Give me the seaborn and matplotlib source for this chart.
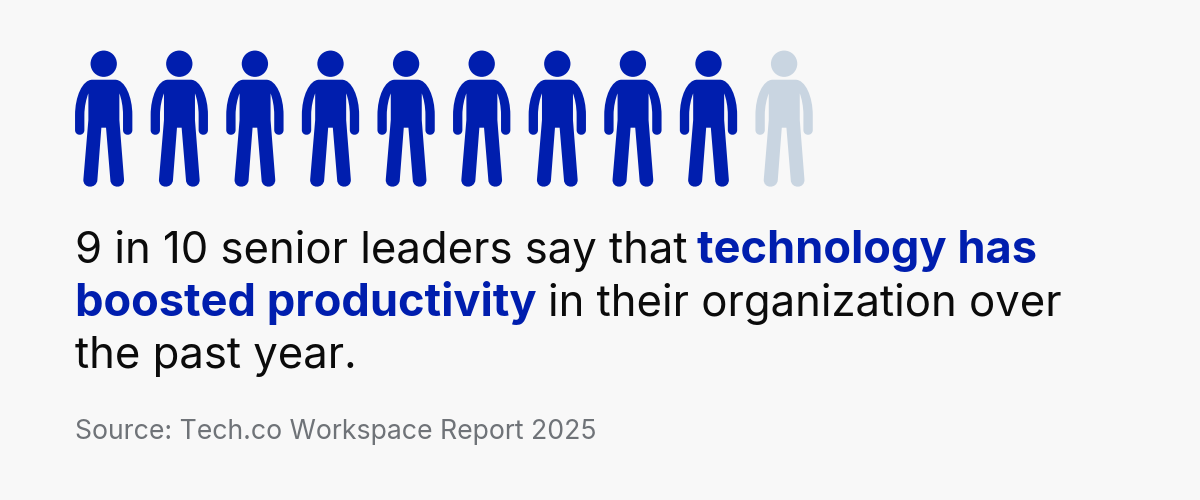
import matplotlib
matplotlib.use("Agg")
import matplotlib.pyplot as plt
import seaborn as sns
import pandas as pd
import numpy as np
from matplotlib.path import Path
from matplotlib.textpath import TextPath
from matplotlib.font_manager import FontProperties

# ---- data ----
people = [1, 2, 3, 4, 5, 6, 7, 8, 9, 10]
status = ["Yes", "Yes", "Yes", "Yes", "Yes", "Yes", "Yes", "Yes", "Yes", "No"]
line1_plain = "9 in 10 senior leaders say that"
line1_bold = "technology has"
line2_bold = "boosted productivity"
line2_plain = "in their organization over"
line3_plain = "the past year."
source_text = "Source: Tech.co Workspace Report 2025"

BG = "#F8F8F8"
BLUE = "#001EAE"
PALE = "#C9D5E1"
INK = "#0B0B0B"
GREY = "#6F7378"
FONT = "Inter"

sns.set_theme(style="white")
plt.rcParams["font.family"] = [FONT, "DejaVu Sans"]

# Person glyph, traced in zoomed px relative to the figure centre
def person_path():
    cx, cy, k = 131.0, 236.0, 204.0
    M, L, C, Z = Path.MOVETO, Path.LINETO, Path.CURVE4, Path.CLOSEPOLY
    body = [
        (M, (131, 119)),
        (L, (165, 119)),
        (C, (195, 119)), (C, (217, 170)), (C, (217, 225)),
        (L, (217, 270)),
        (C, (217, 289)), (C, (189, 289)), (C, (189, 270)),
        (L, (189, 225)),
        (C, (189, 200)), (C, (184, 175)), (C, (178, 160)),
        (L, (178, 240)),
        (L, (192, 418)),
        (C, (194, 447)), (C, (152, 447)), (C, (151, 420)),
        (L, (138, 263)),
        (L, (124, 263)),
        (L, (112, 420)),
        (C, (110, 447)), (C, (68, 447)), (C, (70, 418)),
        (L, (85, 240)),
        (L, (85, 160)),
        (C, (79, 175)), (C, (73, 200)), (C, (73, 225)),
        (L, (73, 270)),
        (C, (73, 289)), (C, (45, 289)), (C, (45, 270)),
        (L, (45, 225)),
        (C, (45, 170)), (C, (67, 119)), (C, (97, 119)),
        (L, (131, 119)),
        (Z, (131, 119)),
    ]
    verts = [((x - cx) / k, (cy - y) / k) for _, (x, y) in body]
    codes = [c for c, _ in body]
    head = Path.circle((0, (cy - 71) / k), 39.5 / k)
    return Path(np.vstack([verts, head.vertices]), codes + list(head.codes))

fig = plt.figure(figsize=(12, 5), dpi=100, facecolor=BG)
ax = fig.add_axes([0, 0, 1, 1])
ax.set_facecolor(BG)

df = pd.DataFrame({"person": people, "row": [1] * len(people), "status": status})
# the glyph's largest control point lies 3.4% outside its unit box
height_pt = 140.6 * 72 / 100
sns.scatterplot(data=df, x="person", y="row", hue="status",
                palette={"Yes": BLUE, "No": PALE}, marker=person_path(),
                s=height_pt ** 2, linewidth=0, legend=False, ax=ax)
step = 75.6
ax.set_xlim(1 - 103.7 / step, 1 + (1200 - 103.7) / step)
ax.set_ylim(1 - (500 - 118.7) / 500, 1 + 118.7 / 500)
ax.axis("off")

def fit(txt, width_px, weight):
    w = TextPath((0, 0), txt, size=100, prop=FontProperties(family=FONT, weight=weight)).get_extents().width
    return 100 * (width_px * 0.72) / w

size_reg = fit(line2_plain, 510, "regular")
size_bold = fit(line2_bold, 458, "bold")
size_src = fit(source_text, 519, "regular")

def put(x, base, s, size, color, weight="regular"):
    fig.text(x / 1200, 1 - base / 500, s, fontsize=size, color=color, fontweight=weight,
             ha="left", va="baseline")

put(75, 263, line1_plain, size_reg, INK)
put(697, 263, line1_bold, size_bold, BLUE, "bold")
put(75, 316, line2_bold, size_bold, BLUE, "bold")
put(548, 316, line2_plain, size_reg, INK)
put(75, 368, line3_plain, size_reg, INK)
put(75, 439, source_text, size_src, GREY)

fig.savefig("out.png", dpi=100, facecolor=BG)
